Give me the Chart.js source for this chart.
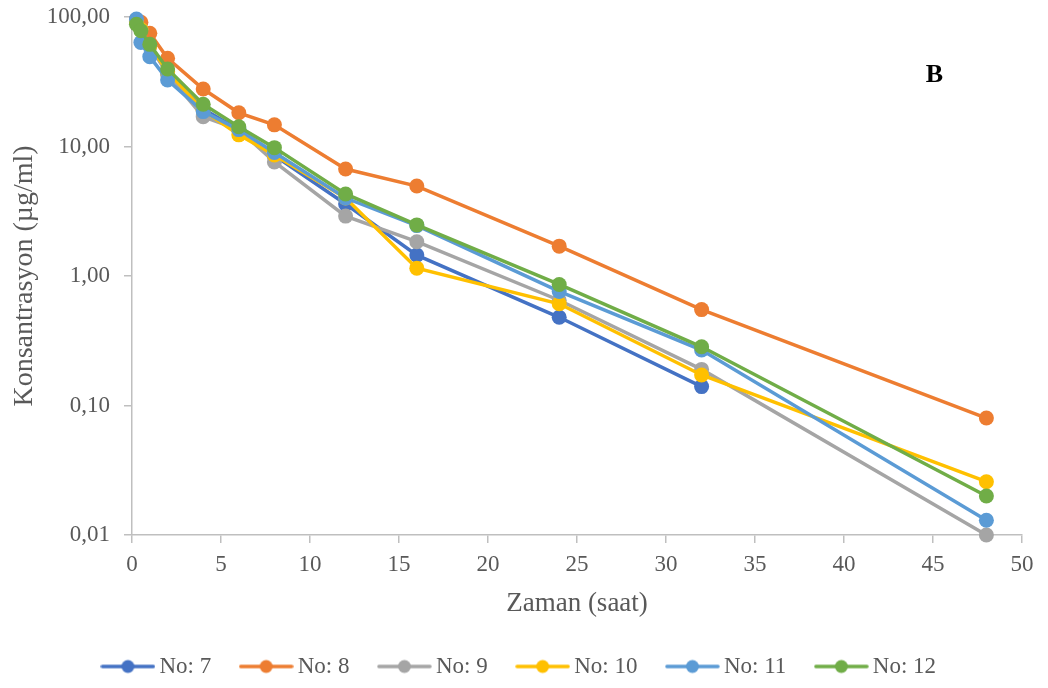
<!DOCTYPE html>
<html>
<head>
<meta charset="utf-8">
<script src="https://cdn.jsdelivr.net/npm/chart.js@4.4.1/dist/chart.umd.min.js"></script>
<style>
  html, body { margin: 0; padding: 0; background: #ffffff; }
  #wrap { width: 1048px; height: 688px; }
</style>
</head>
<body>
<div id="wrap"><canvas id="c" width="1048" height="688"></canvas></div>
<script>
// Sampling times (saat)
const times = [0.25, 0.5, 1, 2, 4, 6, 8, 12, 16, 24, 32, 48];
// Series (µg/ml)
const no7  = [95, 80, 60, 37, 19.5, 13.5, 8.5, 3.6, 1.45, 0.48, 0.14, null];
const no8  = [95, 91, 75, 48, 27.8, 18.2, 14.7, 6.7, 4.95, 1.7, 0.55, 0.08];
const no9  = [93, 80, 60, 36, 17, 13.5, 7.6, 2.9, 1.84, 0.65, 0.19, 0.01];
const no10 = [92, 80, 60, 38, 19, 12.3, 8.6, 4.0, 1.15, 0.61, 0.172, 0.0258];
const no11 = [96.5, 63.5, 49.4, 32.6, 18.6, 13.5, 9.0, 4.0, 2.45, 0.76, 0.268, 0.013];
const no12 = [88, 78.4, 61.5, 39.7, 21.2, 14.2, 9.8, 4.3, 2.48, 0.86, 0.284, 0.020];
const seriesNames = ['No: 7', 'No: 8', 'No: 9', 'No: 10', 'No: 11', 'No: 12'];
const seriesValues = [no7, no8, no9, no10, no11, no12];
const colors = ['#4472C4', '#ED7D31', '#A5A5A5', '#FFC000', '#5B9BD5', '#70AD47'];
const yTicks = [0.01, 0.1, 1, 10, 100];
const xTicks = [0, 5, 10, 15, 20, 25, 30, 35, 40, 45, 50];
const panelLabel = 'B';

const FONT = "'Liberation Serif', 'Times New Roman', serif";
const TEXT = '#595959';
const AXIS = '#BFBFBF';

function legendIcon(color) {
  const cv = document.createElement('canvas');
  cv.width = 55; cv.height = 16;
  const g = cv.getContext('2d');
  g.strokeStyle = color; g.lineWidth = 3.5; g.lineCap = 'round';
  g.beginPath(); g.moveTo(2, 8); g.lineTo(53, 8); g.stroke();
  g.fillStyle = color;
  g.beginPath(); g.arc(27.5, 8, 6.5, 0, Math.PI * 2); g.fill();
  return cv;
}

const datasets = seriesNames.map((name, i) => ({
  label: name,
  data: times.map((t, k) => ({ x: t, y: seriesValues[i][k] })).filter(p => p.y !== null),
  borderColor: colors[i],
  backgroundColor: colors[i],
  borderWidth: 3.5,
  pointRadius: 7.5,
  pointHoverRadius: 7.5,
  pointBorderWidth: 0,
  tension: 0,
  clip: false,
  order: seriesNames.length - i
}));

const panelPlugin = {
  id: 'panelLabel',
  afterLayout(chart) {
    if (chart.legend) { chart.legend.left += 7; chart.legend.right += 7; }
  },
  afterDraw(chart) {
    const { ctx, scales } = chart;
    ctx.save();
    ctx.font = "bold 26px " + FONT;
    ctx.fillStyle = '#000000';
    ctx.textAlign = 'center';
    ctx.textBaseline = 'middle';
    ctx.fillText(panelLabel, scales.x.getPixelForValue(45.08), scales.y.getPixelForValue(35.6));
    ctx.restore();
  }
};

new Chart(document.getElementById('c'), {
  type: 'line',
  data: { datasets },
  plugins: [panelPlugin],
  options: {
    responsive: false,
    animation: false,
    events: [],
    layout: { padding: { top: 17, right: 26, left: 8, bottom: 0 } },
    scales: {
      x: {
        type: 'linear', min: 0, max: 50,
        afterBuildTicks(axis) { axis.ticks = xTicks.map(v => ({ value: v })); },
        afterFit(axis) { axis.height = 85; axis.paddingLeft = 0; },
        ticks: { color: TEXT, font: { family: FONT, size: 23 }, padding: 8, maxRotation: 0 },
        grid: { display: true, drawOnChartArea: false, drawTicks: true, tickLength: 8, color: AXIS, lineWidth: 1.5 },
        border: { display: true, color: AXIS, width: 1.5 },
        title: { display: true, text: 'Zaman (saat)', color: TEXT, font: { family: FONT, size: 27 }, padding: { top: 7, bottom: 0 } }
      },
      y: {
        type: 'logarithmic', min: 0.01, max: 100,
        afterBuildTicks(axis) { axis.ticks = yTicks.map(v => ({ value: v })); },
        afterFit(axis) { axis.width = 124; axis.paddingTop = 0; axis.paddingBottom = 0; },
        ticks: {
          color: TEXT, font: { family: FONT, size: 23 }, padding: 14,
          callback(v) { return Number(v).toFixed(2).replace('.', ','); }
        },
        grid: { display: true, drawOnChartArea: false, drawTicks: true, tickLength: 8, color: AXIS, lineWidth: 1.5 },
        border: { display: true, color: AXIS, width: 1.5 },
        title: { display: true, text: 'Konsantrasyon (µg/ml)', color: TEXT, font: { family: FONT, size: 28 }, padding: { top: 0, bottom: 3 } }
      }
    },
    plugins: {
      tooltip: { enabled: false },
      legend: {
        position: 'bottom',
        labels: {
          usePointStyle: true,
          pointStyleWidth: 40,
          boxWidth: 40,
          boxHeight: 14,
          padding: 35,
          color: TEXT,
          font: { family: FONT, size: 23 },
          generateLabels(chart) {
            return seriesNames.map((name, i) => ({
              text: name,
              fillStyle: colors[i],
              strokeStyle: colors[i],
              fontColor: TEXT,
              lineWidth: 0,
              pointStyle: legendIcon(colors[i]),
              datasetIndex: i,
              hidden: false
            }));
          }
        }
      }
    }
  }
});
</script>
</body>
</html>
